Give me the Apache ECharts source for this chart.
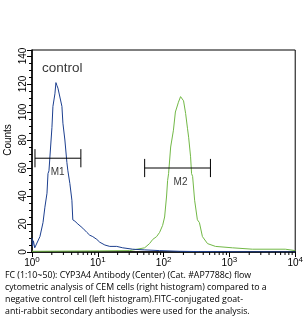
<!DOCTYPE html>
<html><head><meta charset="utf-8">
<script src="https://cdn.jsdelivr.net/npm/echarts@6/dist/echarts.min.js"></script>
<style>html,body{margin:0;padding:0;background:#fff}#c{width:306px;height:326px}</style>
</head><body><div id="c"></div>
<script>
// Control (left) histogram: fluorescence intensity, counts
const blueX = [1.0,1.02,1.05,1.1,1.15,1.32,1.47,1.57,1.69,1.75,1.81,2.01,2.08,2.23,2.31,2.39,2.48,2.65,2.85,2.95,3.16,3.39,3.51,3.76,4.04,4.17,4.49,4.98,5.33,5.92,6.82,7.54,8.38,9.66,10.7,12.8,15.2,19.4,23.9,33.8,51.5,86.9,174,350,1000,10000];
const blueY = [10,4,8,3,4,11,21,32,42,56,58,89,104,113,121,119,117,116,104,92,80,64,58,49,37,23,22,20,21,17,14,12,11,9,7,5,4,4,3,2,1.5,1,0.5,0.3,0.2,0];
// CEM cells (right) histogram
const greenX = [1,10.7,30.5,51.5,61.1,68.4,78.3,86.9,96.6,103.6,111,115,119,128,141,151,163,168,181,187,194,201,208,216,231,240,257,266,276,296,326,350,389,465,613,1110,2230,7070,10000];
const greenY = [0.5,0.8,1,3,6,9,11,14,19,25,40,51,56,75,87,100,105,107,111,110,112,108,107,99,88,82,68,56,54,37,23,21,11,6,4,3,2,2,1];
// Gate markers
const gateNames = ['M1','M2'];
const gateFrom = [1.11,51.5];
const gateTo = [5.53,515];
const gateLevel = [67,60];
const gateLabelX = [2.45,181];
const gateLabelY = [57,50];
// Axis ticks
const xExponents = [0,1,2,3,4];
const xMinorTicks = [];
[1,10,100,1000].forEach(d=>{for(let k=2;k<=9;k++) xMinorTicks.push(d*k);});
const yTicks = [0,20,40,60,80,100,120,140];
const caption = [
 'FC (1:10~50): CYP3A4 Antibody (Center) (Cat. #AP7788c) flow',
 'cytometric analysis of CEM cells (right histogram) compared to a',
 'negative control cell (left histogram).FITC-conjugated goat-',
 'anti-rabbit secondary antibodies were used for the analysis.'
];

const chart = echarts.init(document.getElementById('c'), null, {renderer:'canvas'});
const series = [
 {type:'line', data: blueX.map((x,i)=>[x,blueY[i]]), showSymbol:false, lineStyle:{color:'#1c3f8f', width:1}, z:3},
 {type:'line', data: greenX.map((x,i)=>[x,greenY[i]]), showSymbol:false, lineStyle:{color:'#72b846', width:1}, z:2},
 {type:'custom', data: xMinorTicks.map(v=>[v,0]), silent:true, z:6,
  renderItem:(params, api)=>{
    const p = api.coord([api.value(0), 0]);
    return {type:'line', shape:{x1:p[0], y1:p[1], x2:p[0], y2:p[1]+3}, style:{stroke:'#000', lineWidth:1}};
  }}
];
const dh = 6.5;
gateNames.forEach((n,i)=>{
  const ls = {color:'#000', width:1};
  series.push({type:'line', data:[[gateFrom[i],gateLevel[i]],[gateTo[i],gateLevel[i]]], showSymbol:false, lineStyle:ls, z:4, silent:true});
  series.push({type:'line', data:[[gateFrom[i],gateLevel[i]-dh],[gateFrom[i],gateLevel[i]+dh]], showSymbol:false, lineStyle:ls, z:4});
  series.push({type:'line', data:[[gateTo[i],gateLevel[i]-dh],[gateTo[i],gateLevel[i]+dh]], showSymbol:false, lineStyle:ls, z:4});
  series.push({type:'scatter', data:[[gateLabelX[i],gateLabelY[i]]], symbolSize:0,
    label:{show:true, formatter:n, position:'inside', color:'#000', fontSize:10, fontFamily:'Liberation Sans'}, z:5});
});
series.push({type:'scatter', data:[[1.42,131]], symbolSize:0,
  label:{show:true, formatter:'control', position:'right', distance:0, color:'#000', fontSize:13.5, fontFamily:'Liberation Sans'}, z:5});

chart.setOption({
  animation:false,
  grid:{left:32, top:50, right:9, bottom:74, show:true, borderColor:'#000', borderWidth:1, backgroundColor:'transparent'},
  xAxis:{
    type:'log', logBase:10, min:1, max:10000,
    axisLine:{lineStyle:{color:'#000', width:1.5}},
    axisTick:{show:true, length:5, inside:false, lineStyle:{color:'#000'}},
    splitLine:{show:false}, minorTick:{show:false},
    axisLabel:{margin:4, color:'#000', fontFamily:'Liberation Sans',
      formatter:(v)=>{const e=Math.round(Math.log10(v)); return xExponents.includes(e)?'{b|10}{s|'+e+'}':'';},
      rich:{b:{fontSize:10, color:'#000', fontFamily:'Liberation Sans'}, s:{fontSize:8, color:'#000', fontFamily:'Liberation Sans', padding:[0,0,7,0]}}}
  },
  yAxis:{
    type:'value', min:0, max:144.3, interval:20,
    axisLine:{show:true, lineStyle:{color:'#000', width:1.5}},
    axisTick:{show:true, length:5, lineStyle:{color:'#000'}},
    minorTick:{show:true, splitNumber:4, length:3, lineStyle:{color:'#000'}},
    splitLine:{show:false},
    axisLabel:{rotate:90, margin:4, color:'#000', fontSize:10, fontFamily:'Liberation Sans',
      formatter:(v)=>yTicks.includes(v)?String(v):''}
  },
  graphic:[
    {type:'text', x:8, y:140, rotation:Math.PI/2, style:{text:'Counts', fontSize:10, fontFamily:'Liberation Sans', fill:'#000', align:'center', verticalAlign:'middle'}},
    ...caption.map((t,i)=>({type:'text', left:5, top:271+i*12, style:{text:t, fontSize:8.8, fontFamily:'Open Sans', fill:'#000'}}))
  ],
  series
});
</script></body></html>
